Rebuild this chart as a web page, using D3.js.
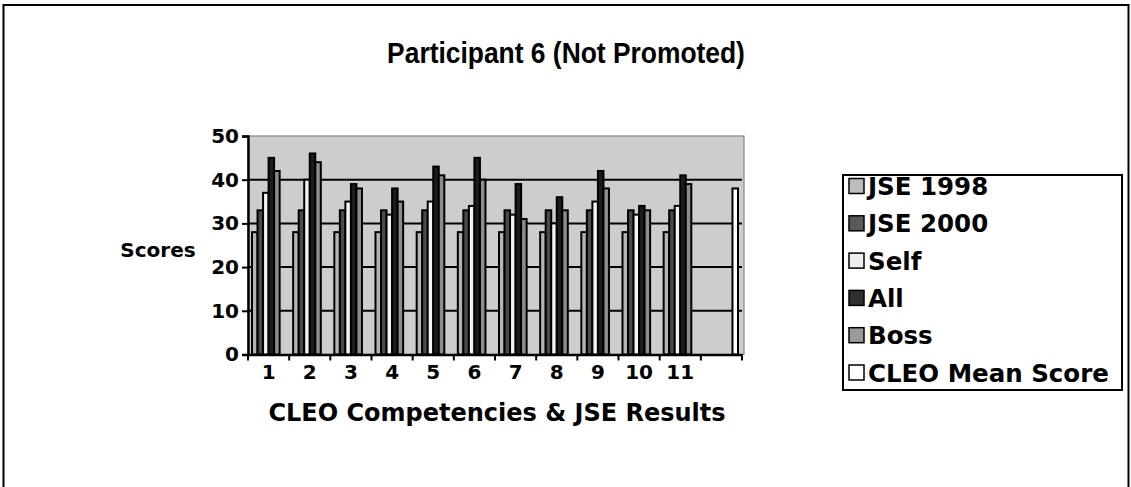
<!DOCTYPE html>
<html>
<head>
<meta charset="utf-8">
<script src="https://cdn.jsdelivr.net/npm/d3@7"></script>
<style>
  html, body { margin: 0; padding: 0; background: #fff; }
  svg { display: block; }
  text { font-family: "DejaVu Sans", "Liberation Sans", Arial, sans-serif; font-weight: bold; fill: #000; }
  .title { font-family: "Liberation Sans", Arial, Helvetica, sans-serif; }
</style>
</head>
<body>
<svg id="chart" width="1131" height="487"></svg>
<script>
// Competency categories (the last slot holds only the CLEO mean bar)
const categories = ["1", "2", "3", "4", "5", "6", "7", "8", "9", "10", "11", ""];
const seriesNames = ["JSE 1998", "JSE 2000", "Self", "All", "Boss", "CLEO Mean Score"];

const jse1998 = [28, 28, 28, 28, 28, 28, 28, 28, 28, 28, 28, null];
const jse2000 = [33, 33, 33, 33, 33, 33, 33, 33, 33, 33, 33, null];
const self    = [37, 40, 35, 32, 35, 34, 32, 30, 35, 32, 34, null];
const all     = [45, 46, 39, 38, 43, 45, 39, 36, 42, 34, 41, null];
const boss    = [42, 44, 38, 35, 41, 40, 31, 33, 38, 33, 39, null];
const cleoMean = [null, null, null, null, null, null, null, null, null, null, null, 38];

const yTicks = [0, 10, 20, 30, 40, 50];

const seriesValues = [jse1998, jse2000, self, all, boss, cleoMean];
const barFills = ["#b4b4b4", "#4a4a4a", "#f4f4f4", "#1c1c1c", "#8c8c8c", "#ffffff"];
const swatchFills = ["#bdbdbd", "#5a5a5a", "#eeeeee", "#2e2e2e", "#9a9a9a", "#ffffff"];

const svg = d3.select("#chart");

// outer frame
svg.append("rect")
  .attr("x", 3.5).attr("y", 5).attr("width", 1125).attr("height", 490)
  .attr("fill", "none").attr("stroke", "#000").attr("stroke-width", 2);

// title, set in a narrowed sans
svg.append("text")
  .attr("class", "title")
  .attr("transform", "translate(566,63) scale(0.88,1)")
  .attr("text-anchor", "middle")
  .style("font-size", "30px")
  .text("Participant 6 (Not Promoted)");

const plot = { left: 248, right: 742, top: 136, bottom: 354.5 };

const x = d3.scaleBand()
  .domain(d3.range(categories.length))
  .range([plot.left, plot.right])
  .padding(0);

const groupGap = 8;
const xInner = d3.scaleBand()
  .domain(d3.range(seriesNames.length))
  .range([groupGap / 2, x.bandwidth() - groupGap / 2])
  .padding(0);

const y = d3.scaleLinear().domain([0, 50]).range([plot.bottom, plot.top]);

// plot background
svg.append("rect")
  .attr("x", plot.left).attr("y", plot.top)
  .attr("width", plot.right - plot.left + 2).attr("height", plot.bottom - plot.top)
  .attr("fill", "#cdcdcd")
  .attr("stroke", "#777").attr("stroke-width", 1);

// horizontal gridlines
svg.append("g")
  .selectAll("line")
  .data(yTicks.filter(d => d > 0 && d < 50))
  .join("line")
  .attr("x1", plot.left).attr("x2", plot.right)
  .attr("y1", d => y(d)).attr("y2", d => y(d))
  .attr("stroke", "#000").attr("stroke-width", 2);

// bars
const rows = [];
seriesValues.forEach((vals, s) => {
  vals.forEach((v, i) => {
    if (v != null) rows.push({ s, i, v });
  });
});

svg.append("g")
  .selectAll("rect")
  .data(rows)
  .join("rect")
  .attr("x", d => x(d.i) + xInner(d.s))
  .attr("y", d => y(d.v))
  .attr("width", xInner.bandwidth())
  .attr("height", d => y(0) - y(d.v))
  .attr("fill", d => barFills[d.s])
  .attr("stroke", "#000")
  .attr("stroke-width", 2);

// y axis
const yAxis = svg.append("g")
  .attr("transform", `translate(${plot.left},0)`)
  .call(d3.axisLeft(y).tickValues(yTicks).tickSize(6).tickPadding(3));
yAxis.select(".domain").attr("stroke", "#000").attr("stroke-width", 2.5);
yAxis.selectAll(".tick line").attr("stroke", "#000").attr("stroke-width", 2);
yAxis.selectAll(".tick text")
  .style("font-size", "20px")
  .style("font-family", "'DejaVu Sans', sans-serif")
  .style("font-weight", "bold")
  .attr("fill", "#000");

// x axis: ticks at category boundaries, labels at centres
const xAxis = svg.append("g")
  .attr("transform", `translate(0,${plot.bottom})`)
  .call(d3.axisBottom(x).tickFormat(i => categories[i]).tickSize(0).tickPadding(10));
xAxis.select(".domain").attr("stroke", "#000").attr("stroke-width", 2.5);
xAxis.selectAll(".tick text")
  .style("font-size", "20px")
  .style("font-family", "'DejaVu Sans', sans-serif")
  .style("font-weight", "bold")
  .attr("fill", "#000");

svg.append("g")
  .selectAll("line")
  .data(d3.range(categories.length + 1))
  .join("line")
  .attr("x1", i => plot.left + i * x.step())
  .attr("x2", i => plot.left + i * x.step())
  .attr("y1", plot.bottom).attr("y2", plot.bottom + 6)
  .attr("stroke", "#000").attr("stroke-width", 2);

// axis titles
svg.append("text")
  .attr("x", 158).attr("y", 257)
  .attr("text-anchor", "middle")
  .style("font-size", "20px")
  .text("Scores");

svg.append("text")
  .attr("x", 497).attr("y", 421)
  .attr("text-anchor", "middle")
  .style("font-size", "24px")
  .text("CLEO Competencies & JSE Results");

// legend
const legend = svg.append("g");
legend.append("rect")
  .attr("x", 843).attr("y", 175).attr("width", 279).attr("height", 215)
  .attr("fill", "#fff").attr("stroke", "#000").attr("stroke-width", 2);

const item = legend.selectAll("g.item")
  .data(seriesNames)
  .join("g")
  .attr("class", "item")
  .attr("transform", (d, i) => `translate(849,${186 + i * 37.3})`);

item.append("rect")
  .attr("x", 0).attr("y", -7.5).attr("width", 15).attr("height", 15)
  .attr("fill", (d, i) => swatchFills[i])
  .attr("stroke", "#000").attr("stroke-width", 1.5);

item.append("text")
  .attr("x", 19).attr("y", 9)
  .style("font-size", "24.5px")
  .text(d => d);
</script>
</body>
</html>
